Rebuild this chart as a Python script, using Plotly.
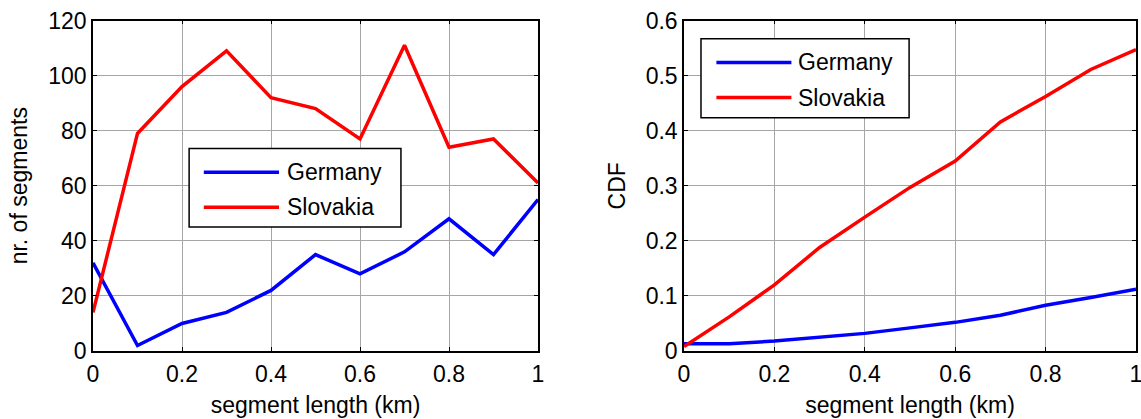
import plotly.graph_objects as go

# segment length bins (km)
seg_length = [0.0, 0.1, 0.2, 0.3, 0.4, 0.5, 0.6, 0.7, 0.8, 0.9, 1.0]

# number of segments per length bin
count_germany = [32, 2, 10, 14, 22, 35, 28, 36, 48, 35, 55]
count_slovakia = [14, 79, 96, 109, 92, 88, 77, 111, 74, 77, 61]

# cumulative distribution of segment length
cdf_germany = [0.013, 0.013, 0.018, 0.025, 0.032, 0.042, 0.052, 0.065, 0.083, 0.097, 0.112]
cdf_slovakia = [0.008, 0.062, 0.120, 0.188, 0.243, 0.297, 0.345, 0.416, 0.462, 0.511, 0.547]

x_ticks = [0, 0.2, 0.4, 0.6, 0.8, 1]
x_ticklabels = ["0", "0.2", "0.4", "0.6", "0.8", "1"]
names = ["Germany", "Slovakia"]
colors = ["#0000ff", "#ff0000"]

FONT = "Arial, Liberation Sans, sans-serif"
FS = 23
LW = 3.5

fig = go.Figure()
for name, col, ys in zip(names, colors, [count_germany, count_slovakia]):
    fig.add_trace(go.Scatter(x=seg_length, y=ys, mode="lines", name=name,
                             line=dict(color=col, width=LW), xaxis="x", yaxis="y",
                             showlegend=False))
for name, col, ys in zip(names, colors, [cdf_germany, cdf_slovakia]):
    fig.add_trace(go.Scatter(x=seg_length, y=ys, mode="lines", name=name,
                             line=dict(color=col, width=LW), xaxis="x2", yaxis="y2",
                             showlegend=False))

axis_common = dict(
    showline=True, linecolor="black", linewidth=1.5, mirror="ticks",
    ticks="inside", ticklen=4, tickcolor="black", tickwidth=1,
    showgrid=True, gridcolor="#a6a6a6", gridwidth=1, zeroline=False,
    automargin=False, ticklabeloverflow="allow",
    tickfont=dict(family=FONT, size=FS, color="black"),
)

xdom1 = [93 / 1141, 538 / 1141]
xdom2 = [684 / 1141, 1136 / 1141]
ydom = [1 - 351 / 419, 1 - 20.5 / 419]

x_title = dict(text="segment length (km)", standoff=11, font=dict(family=FONT, size=FS))

fig.update_layout(
    width=1141, height=419,
    margin=dict(l=0, r=0, t=0, b=0, autoexpand=False),
    paper_bgcolor="white", plot_bgcolor="white",
    font=dict(family=FONT, size=FS, color="black"),
    xaxis=dict(domain=xdom1, range=[0, 1], tickvals=x_ticks, ticktext=x_ticklabels,
               anchor="y", title=x_title, ticklabelstandoff=2, **axis_common),
    yaxis=dict(domain=ydom, range=[0, 120], dtick=20, anchor="x",
               title=dict(text="nr. of segments", standoff=14,
                          font=dict(family=FONT, size=FS)),
               **axis_common),
    xaxis2=dict(domain=xdom2, range=[0, 1], tickvals=x_ticks, ticktext=x_ticklabels,
                anchor="y2", title=x_title, ticklabelstandoff=2, **axis_common),
    yaxis2=dict(domain=ydom, range=[0, 0.6], dtick=0.1, anchor="x2",
                title=dict(text="CDF", standoff=14, font=dict(family=FONT, size=FS)),
                **axis_common),
)


def draw_legend(xref, yref, box, line_x, rows_y, text_x):
    """Boxed legend placed in axis-domain coordinates."""
    fig.add_shape(type="rect", xref=xref, yref=yref,
                  x0=box[0], x1=box[1], y0=box[2], y1=box[3],
                  line=dict(color="black", width=1.5), fillcolor="white", layer="above")
    for name, col, yy in zip(names, colors, rows_y):
        fig.add_shape(type="line", xref=xref, yref=yref,
                      x0=line_x[0], x1=line_x[1], y0=yy, y1=yy,
                      line=dict(color=col, width=LW), layer="above")
        fig.add_annotation(xref=xref, yref=yref, x=text_x, y=yy, text=name,
                           showarrow=False, xanchor="left", yanchor="middle",
                           font=dict(family=FONT, size=FS, color="black"))


draw_legend("x domain", "y domain",
            box=[0.216, 0.692, 0.375, 0.613],
            line_x=[0.249, 0.418], rows_y=[0.541, 0.435], text_x=0.432)
draw_legend("x2 domain", "y2 domain",
            box=[0.0376, 0.498, 0.706, 0.945],
            line_x=[0.0717, 0.2376], rows_y=[0.873, 0.767], text_x=0.248)

fig.write_html("out.html")
